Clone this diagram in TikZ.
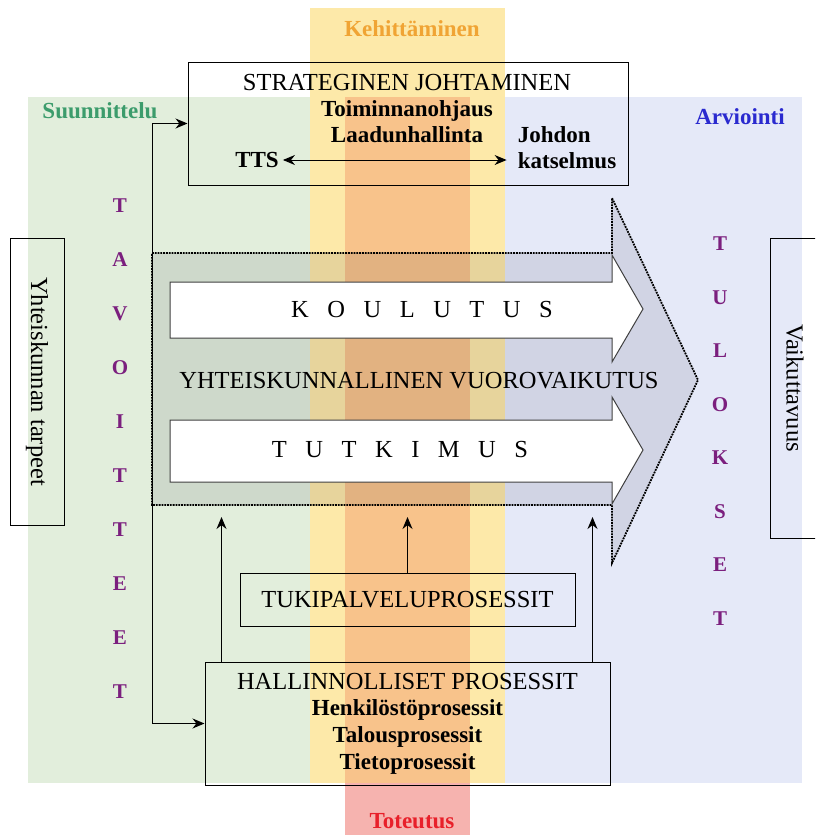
\documentclass[tikz,border=0pt]{standalone}
\usepackage{fontspec}
\setmainfont{Liberation Serif}[BoldFont={Liberation Serif Bold}]
\usepackage{tikz}
\usetikzlibrary{arrows.meta}

\definecolor{greenbg}{HTML}{E2EEDC}
\definecolor{bluebg}{HTML}{E5E9F8}
\definecolor{yellowbg}{HTML}{FDE9A9}
\definecolor{orangebg}{HTML}{F8C38B}
\definecolor{pinkbg}{HTML}{F6B3AF}
\definecolor{greentxt}{HTML}{3C9C6C}
\definecolor{orangetxt}{HTML}{F0A434}
\definecolor{bluetxt}{HTML}{2A2ACF}
\definecolor{redtxt}{HTML}{E8202A}
\definecolor{purpletxt}{HTML}{7B1F7E}

\newcommand{\lsp}{\hspace{18.5pt}}

\tikzstyle{frame} = [rectangle, draw=black, line width=1pt, inner sep=0pt]
\tikzstyle{plain} = [font=\fontsize{24.5}{26.7}\selectfont, inner sep=1pt]
\tikzstyle{strong} = [font=\fontsize{23}{26}\selectfont\bfseries, inner sep=1pt]
\tikzstyle{letters} = [font=\fontsize{21}{54}\selectfont\bfseries, text=purpletxt, align=center, inner sep=0pt]
\tikzstyle{whitearrow} = [fill=white, draw=black!75, line width=1pt]
\tikzstyle{arrow} = [line width=1pt, -{Stealth[length=12pt,width=10pt]}]
\tikzstyle{twoway} = [line width=1pt, {Stealth[length=12pt,width=10pt]}-{Stealth[length=12pt,width=10pt]}]

\begin{document}
\begin{tikzpicture}[x=1pt, y=-1pt]
        \useasboundingbox (0,0) rectangle (815,835);
        \clip (0,0) rectangle (815,835);

        % taustat
        \fill [greenbg] (28,97) rectangle (310,783);
        \fill [bluebg] (505,97) rectangle (802,783);
        \fill [yellowbg] (310,8) rectangle (505,783);
        \fill [orangebg] (345,97) rectangle (470,783);
        \fill [pinkbg] (345,783) rectangle (470,835);

        \node (kehittaminen) [strong, text=orangetxt] at (412,29) {Kehittäminen};
        \node (suunnittelu) [strong, text=greentxt] at (100,111) {Suunnittelu};
        \node (arviointi) [strong, text=bluetxt] at (740,117) {Arviointi};
        \node (toteutus) [strong, text=redtxt] at (412,821) {Toteutus};

        % iso nuoli
        \draw [densely dotted, line width=1.8pt, fill=black!90!blue, fill opacity=0.085]
            (152,253) -- (612,253) -- (612,198) -- (698,380) -- (612,563) -- (612,505) -- (152,505) -- cycle;
        \draw [whitearrow] (170,282) -- (612,282) -- (612,255) -- (643,309) -- (612,362) -- (612,338) -- (170,338) -- cycle;
        \draw [whitearrow] (170,420) -- (612,420) -- (612,397) -- (643,450) -- (612,504) -- (612,482) -- (170,482) -- cycle;

        \node (koulutus) [plain] at (422,310) {K\lsp O\lsp U\lsp L\lsp U\lsp T\lsp U\lsp S};
        \node (tutkimus) [plain] at (400,450) {T\lsp U\lsp T\lsp K\lsp I\lsp M\lsp U\lsp S};
        \node (vuorovaikutus) [plain] at (419,381) {YHTEISKUNNALLINEN VUOROVAIKUTUS};

        % laatikot
        \node (strategia) [frame, minimum width=440pt, minimum height=123pt] at (408,123.5) {};
        \node (johtaminen) [strong, align=center] at (407,109) {\mdseries\fontsize{24.5}{26}\selectfont STRATEGINEN JOHTAMINEN\\Toiminnanohjaus\\Laadunhallinta};
        \node (tts) [strong] at (257,160) {TTS};
        \node (johdon) [strong, align=left] at (567,148) {Johdon\\katselmus};

        \node (tukipalvelu) [frame, plain, minimum width=335pt, minimum height=53pt] at (407.5,599.5) {TUKIPALVELUPROSESSIT};
        \node (hallinto) [frame, plain, align=center, minimum width=405pt, minimum height=123pt] at (407.5,723.5)
            {HALLINNOLLISET PROSESSIT\\\textbf{\fontsize{23}{26.7}\selectfont Henkilöstöprosessit}\\\textbf{\fontsize{23}{26.7}\selectfont Talousprosessit}\\\textbf{\fontsize{23}{26.7}\selectfont Tietoprosessit}};

        \node (tarpeet) [frame, plain, rotate=-90, minimum width=287pt, minimum height=54pt] at (37,381.5) {Yhteiskunnan tarpeet};
        \node (vaikuttavuus) [frame, plain, rotate=-90, minimum width=300pt, minimum height=50pt] at (795,388) {Vaikuttavuus};

        \node (tavoitteet) [letters] at (120,449) {T\\A\\V\\O\\I\\T\\T\\E\\E\\T};
        \node (tulokset) [letters, font=\fontsize{21}{53.5}\selectfont\bfseries] at (720,431) {T\\U\\L\\O\\K\\S\\E\\T};

        % yhteydet
        \coordinate (haara) at (152,123.5);
        \coordinate (alaraja) at (0,517);
        \draw [arrow] (haara) -- (strategia.west);
        \draw [arrow] (haara) |- (hallinto.west);
        \draw [twoway, shorten <=3pt, shorten >=10pt] (tts.east) -- (johdon.west |- tts.east);
        \draw [arrow] ([xshift=17pt]hallinto.north west) -- ([xshift=17pt]hallinto.north west |- alaraja);
        \draw [arrow] (tukipalvelu.north) -- (tukipalvelu.north |- alaraja);
        \draw [arrow] ([xshift=-18pt]hallinto.north east) -- ([xshift=-18pt]hallinto.north east |- alaraja);

      \end{tikzpicture}
\end{document}
